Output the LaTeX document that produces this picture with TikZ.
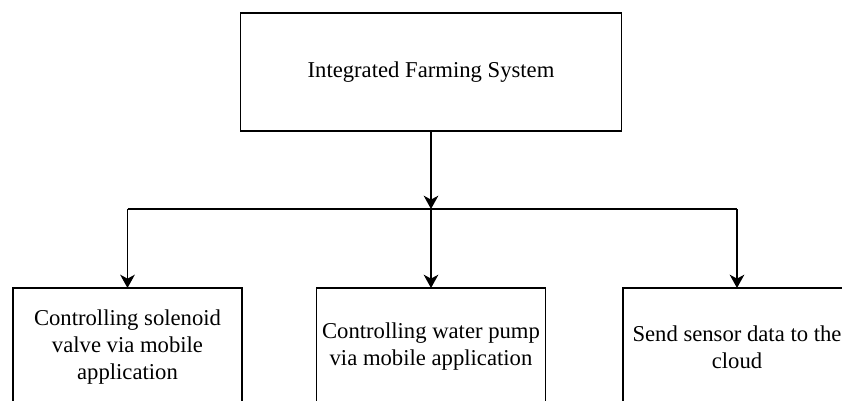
\documentclass[tikz,border=0pt]{standalone}
\usepackage{fontspec}
\setmainfont{Liberation Serif}
\usetikzlibrary{arrows.meta}

\tikzset{
  blk/.style={draw,line width=1pt,minimum height=88.5pt,outer sep=0pt,align=center,
    font=\fontsize{17}{20.3}\selectfont},
  link/.style={line width=1pt,-{Stealth[length=10pt,width=11pt,inset=3pt]}}
}

\begin{document}
\begin{tikzpicture}[x=0.75pt,y=-0.75pt] % px units, y down
   \useasboundingbox (0,0) rectangle (842,400);
   \clip (0,0) rectangle (842,400);
   \node[blk,minimum width=285.75pt] (sys) at (431,72) {Integrated Farming System};
   \node[blk,minimum width=171.75pt] (valve) at (127.5,347) {Controlling solenoid\\valve via mobile\\application};
   \node[blk,minimum width=171.75pt] (pump) at (431,347) {Controlling water pump\\via mobile application};
   \node[blk,minimum width=171pt] (cloud) at (737,347) {Send sensor data to the\\cloud};
   \coordinate (bus) at (431,209);
   \coordinate (busl) at (127.5,209);
   \coordinate (busr) at (737,209);
   \draw[link] (sys.south) -- (bus);
   \draw[line width=1pt] (busl) -- (busr);
   \draw[link] (busl) -- (valve.north);
   \draw[link] (bus) -- (pump.north);
   \draw[link] (busr) -- (cloud.north);
\end{tikzpicture}
\end{document}
